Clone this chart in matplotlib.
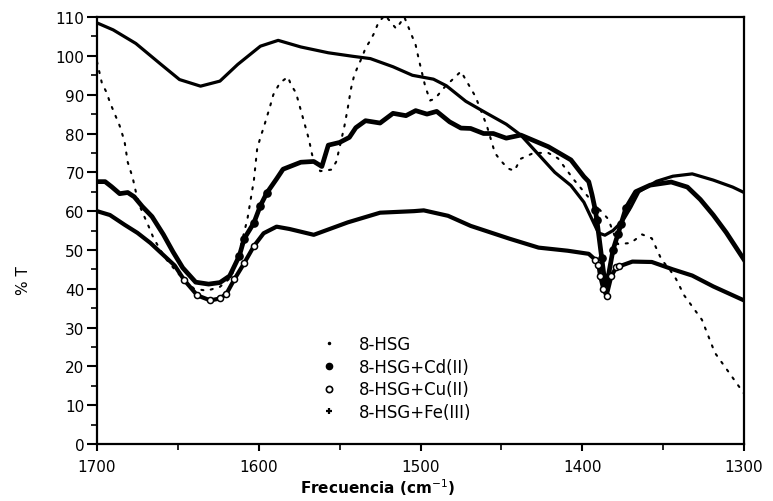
import numpy as np
import matplotlib
matplotlib.use("Agg")
from matplotlib import pyplot as plt
from matplotlib.lines import Line2D
from matplotlib.ticker import MultipleLocator

# Espectro IR, % T frente a frecuencia (cm-1)
hsg_x = [1700, 1697, 1694, 1692, 1686, 1683, 1681, 1678, 1676, 1674, 1668, 1665,
         1658, 1650, 1640, 1632, 1624, 1617, 1612, 1607, 1603, 1601, 1599, 1597,
         1593, 1591, 1587, 1582, 1580, 1577, 1575, 1573, 1571, 1569, 1567, 1562,
         1555, 1552, 1547, 1545, 1543, 1541, 1539, 1536, 1534, 1531, 1529, 1526,
         1522, 1515, 1510, 1503, 1501, 1497, 1494, 1491, 1485, 1475, 1466, 1459,
         1454, 1451, 1446, 1442, 1438, 1430, 1421, 1415, 1405, 1395, 1388, 1384,
         1378, 1370, 1363, 1357, 1351, 1346, 1342, 1337, 1326, 1318, 1300]
hsg_y = [98.5, 93, 90.5, 88, 82, 78, 72.6, 68.7, 65, 61.7, 56, 53,
         48, 44, 40, 39.5, 40.5, 43, 49.5, 58, 68, 76, 79, 81.5,
         87, 90, 93, 94.6, 92.5, 90.5, 87.5, 84.5, 81.5, 78.5, 74.5, 70.3,
         70.7, 72.8, 82, 86.5, 91.5, 95, 97, 99.8, 102, 104, 105.6, 108.6,
         110.5, 107, 110, 102.8, 99, 92, 88.5, 89, 92, 96, 89.5, 82,
         75, 73.3, 71, 70.4, 73.5, 75, 75, 73.6, 68, 63, 59.8, 58,
         51.5, 51.8, 54, 53, 47.5, 45, 42.5, 38.3, 32, 23.5, 13]

cd_x = [1700, 1695, 1691, 1686, 1681, 1677, 1672, 1666, 1659, 1653, 1647, 1639,
        1631, 1624, 1618, 1612, 1609, 1603, 1599, 1595, 1589, 1585, 1574, 1566,
        1561, 1557, 1550, 1544, 1540, 1534, 1525, 1517, 1509, 1503, 1496, 1490,
        1482, 1475, 1469, 1461, 1455, 1447, 1438, 1421, 1407, 1399, 1396, 1394,
        1392, 1391, 1388, 1386, 1384, 1381, 1378, 1376, 1373, 1367, 1358, 1345,
        1335, 1327, 1319, 1311, 1300]
cd_y = [67.6, 67.6, 66.3, 64.5, 64.8, 63.7, 61.2, 58.6, 54, 49.5, 45.4, 41.7,
        41.2, 41.6, 43.3, 48.5, 52.9, 57, 61.4, 64.7, 68.3, 70.8, 72.6, 72.8,
        71.5, 77, 77.7, 79, 81.5, 83.3, 82.7, 85.2, 84.6, 85.9, 85, 85.7,
        83, 81.4, 81.3, 80, 80, 78.8, 79.6, 76.6, 73.2, 68.9, 67.6, 64.3,
        60.4, 57.8, 48, 41.5, 43, 50, 54, 56.7, 60.8, 65, 66.7, 67.5,
        66.2, 63, 59, 54.5, 47.5]

cu_x = [1700, 1692, 1683, 1675, 1667, 1659, 1652, 1646, 1638, 1630, 1624, 1620,
        1615, 1609, 1603, 1597, 1589, 1581, 1566, 1545, 1525, 1504, 1498, 1483,
        1469, 1445, 1427, 1409, 1396, 1392, 1390, 1389, 1387, 1385, 1382, 1379,
        1377, 1369, 1357, 1344, 1332, 1319, 1300]
cu_y = [60, 59, 56.5, 54.4, 51.8, 48.7, 46, 42.2, 38.3, 37, 37.5, 38.7,
        42.5, 46.6, 51, 54.3, 56, 55.4, 53.9, 57.1, 59.6, 60, 60.2, 58.8,
        56.2, 52.9, 50.6, 49.8, 49, 47.5, 46.2, 43.4, 40, 38.2, 43.3, 45.5,
        45.8, 47, 46.9, 45, 43.4, 40.6, 37]

fe_x = [1700, 1690, 1676, 1661, 1649, 1636, 1624, 1613, 1599, 1588, 1574, 1557,
        1542, 1531, 1517, 1505, 1492, 1484, 1472, 1459, 1447, 1438, 1417, 1407,
        1399, 1390, 1386, 1381, 1375, 1370, 1365, 1354, 1344, 1332, 1319, 1307,
        1300]
fe_y = [108.5, 106.7, 103.2, 98, 93.9, 92.2, 93.5, 97.8, 102.5, 104, 102.3, 100.8,
        99.9, 99.3, 97.2, 95, 94, 92.3, 88.3, 85.2, 82.4, 79.6, 70, 66.6,
        62.3, 54.4, 53.8, 55, 57.5, 61, 65, 67.7, 69, 69.6, 68, 66.2,
        64.8]

labels = ["8-HSG", "8-HSG+Cd(II)", "8-HSG+Cu(II)", "8-HSG+Fe(III)"]

plt.rcParams['font.family'] = ['DejaVu Sans']
fig = plt.figure(figsize=(7.73, 5.02), dpi=100)
ax = fig.add_axes([0.1255, 0.1135, 0.837, 0.8505])


def steep_points(xs, ranges):
    # indices where the scanned curve shows separate markers
    return [i for i, v in enumerate(xs)
            if any(min(a, b) < v < max(a, b) for a, b in ranges)]


ax.plot(hsg_x, hsg_y, color='black', lw=1.5, dashes=(1, 3.6),
        dash_capstyle='round')
ax.plot(fe_x, fe_y, color='black', lw=2.3)
ax.plot(cd_x, cd_y, color='black', lw=3.4, marker='o', ms=5.2,
        markevery=steep_points(cd_x, [(1615, 1590), (1393, 1370)]))
ax.plot(cu_x, cu_y, color='black', lw=3.0, marker='o', ms=4.4, mfc='white',
        mew=1.1, markevery=steep_points(cu_x, [(1650, 1600), (1395, 1375)]))

handles = [
    Line2D([], [], ls='none', marker='.', ms=3, color='black'),
    Line2D([], [], ls='none', marker='o', ms=4.5, color='black'),
    Line2D([], [], ls='none', marker='o', ms=4.5, mfc='white', mew=1.2, color='black'),
    Line2D([], [], ls='none', marker='+', ms=4, mew=1.6, color='black'),
]
ax.legend(handles, labels, loc='upper left', bbox_to_anchor=(0.345, 0.255),
          frameon=False, fontsize=12, handlelength=1.0, handletextpad=1.3,
          labelspacing=0.28, borderaxespad=0, borderpad=0)

ax.set_xlim(1700, 1300)
ax.set_ylim(0, 110)
ax.xaxis.set_major_locator(MultipleLocator(100))
ax.xaxis.set_minor_locator(MultipleLocator(50))
ax.yaxis.set_major_locator(MultipleLocator(10))
ax.yaxis.set_minor_locator(MultipleLocator(5))

for s in ax.spines.values():
    s.set_linewidth(1.6)
ax.tick_params(axis='y', which='major', direction='out', length=7, width=1.5,
               labelsize=11, pad=2)
ax.tick_params(axis='y', which='minor', direction='out', length=4, width=1.2)
ax.tick_params(axis='x', which='major', direction='out', length=5, width=1.5,
               labelsize=11, pad=6)
ax.tick_params(axis='x', which='minor', direction='out', length=4, width=1.2)

ax.set_xlabel("Frecuencia (cm$^{-1}$)", fontsize=11, fontweight='bold')
ax.xaxis.set_label_coords(0.433, -0.075)
ax.set_ylabel("% T", fontsize=11)
ax.yaxis.set_label_coords(-0.102, 0.386)

fig.savefig("out.png", dpi=100)
